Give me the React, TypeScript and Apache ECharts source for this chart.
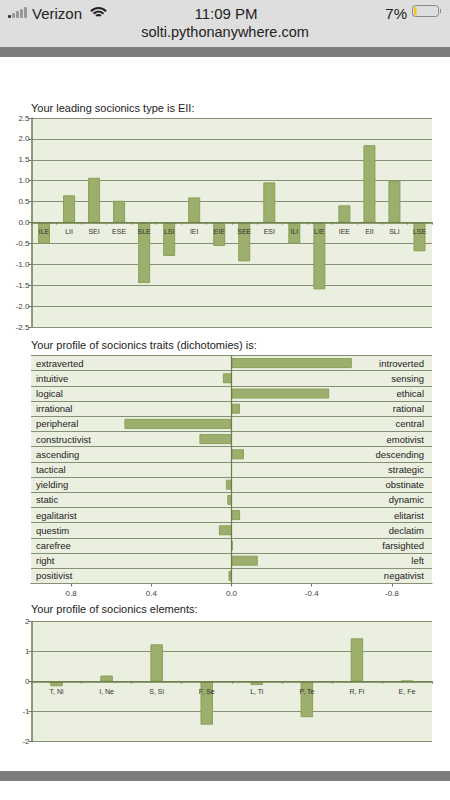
import React, { useEffect, useRef } from "react";
import * as echarts from "echarts";

const typeNames = ["ILE","LII","SEI","ESE","SLE","LSI","IEI","EIE","SEE","ESI","ILI","LIE","IEE","EII","SLI","LSE"];
const typeValues = [-0.5,0.65,1.07,0.52,-1.45,-0.8,0.6,-0.56,-0.93,0.96,-0.5,-1.6,0.41,1.85,1.0,-0.69];
const traitLeft = ["extraverted","intuitive","logical","irrational","peripheral","constructivist","ascending","tactical","yielding","static","egalitarist","questim","carefree","right","positivist"];
const traitRight = ["introverted","sensing","ethical","rational","central","emotivist","descending","strategic","obstinate","dynamic","elitarist","declatim","farsighted","left","negativist"];
const traitValues = [-0.6,0.043,-0.487,-0.042,0.534,0.16,-0.062,0,0.028,0.021,-0.043,0.063,-0.006,-0.131,0.015];
const traitTicks = [0.8,0.4,0,-0.4,-0.8];
const elementNames = ["T, Ni","I, Ne","S, Si","F, Se","L, Ti","P, Te","R, Fi","E, Fe"];
const elementValues = [-0.16,0.2,1.24,-1.44,-0.12,-1.19,1.44,0.03];

const FONT = "Liberation Sans";
const PLOT = "#ebefdf";
const GRID = "#858f74";
const AXIS = "#6c7f4a";
const BAR = { color: "#9caf6c", borderColor: "#8aa05a", borderWidth: 1 };

const chromeText = (text: string, x: number, y: number, align: string, size = 15, weight: any = "normal") => ({
  type: "text", x, y,
  style: { text, fill: "#222", font: `${weight} ${size}px '${FONT}'`, textAlign: align, textVerticalAlign: "middle" },
  z: 10,
});
const band = (y: number, height: number, fill: string) => ({ type: "rect", shape: { x: 0, y, width: 450, height }, style: { fill }, z: 1 });
const signal = [0, 1, 2, 3, 4].map((i) => ({
  type: "rect",
  shape: { x: 8 + i * 4, y: 15 - i * 2, width: 3, height: 3 + i * 2, r: 1 },
  style: { fill: i < 1 ? "#333" : "#999" }, z: 10,
}));
const wifi = [3, 6.5, 10].map((r) => ({
  type: "arc",
  shape: { cx: 98.5, cy: 18, r, startAngle: -Math.PI * 0.77, endAngle: -Math.PI * 0.23 },
  style: { stroke: "#222", lineWidth: 2.2, fill: "none" }, z: 10,
}));

function valueAxisY(gridIndex: number, min: number, max: number, interval: number, digits: number) {
  return {
    type: "value", gridIndex, min, max, interval,
    axisLine: { show: true, onZero: false, lineStyle: { color: AXIS, width: 1.5 } },
    axisTick: { show: true, length: 3, lineStyle: { color: AXIS } },
    axisLabel: { fontFamily: FONT, fontSize: 8, color: "#444", margin: 2, formatter: (v: number) => v.toFixed(digits) },
    splitLine: { show: true, lineStyle: { color: GRID, width: 1 } },
  };
}
function catAxisX(gridIndex: number, data: string[], margin: number, offset: number) {
  return {
    type: "category", gridIndex, data, offset,
    axisLine: { show: true, onZero: false, lineStyle: { color: AXIS, width: 1.5 } },
    axisTick: { show: true, length: 2, lineStyle: { color: AXIS } },
    axisLabel: { interval: 0, fontFamily: FONT, fontSize: 7, color: "#333", margin, hideOverlap: false },
    z: 5,
  };
}
const titleOf = (text: string, top: number) => ({
  text, left: 31, top,
  textStyle: { fontFamily: FONT, fontSize: 11, fontWeight: "normal", color: "#222" }, padding: 0,
});

export default function App() {
  const ref = useRef<HTMLDivElement>(null);
  useEffect(() => {
    document.body.style.margin = "0";
    const chart = echarts.init(ref.current!, null, { renderer: "svg" });
    chart.setOption({
      animation: false,
      backgroundColor: "#fff",
      title: [
        titleOf("Your leading socionics type is EII:", 102),
        titleOf("Your profile of socionics traits (dichotomies) is:", 339),
        titleOf("Your profile of socionics elements:", 603),
      ],
      grid: [
        { left: 31.5, width: 400.5, top: 118, height: 209, show: true, backgroundColor: PLOT, borderWidth: 0 },
        { left: 31, width: 401, top: 355.5, height: 228, show: true, backgroundColor: PLOT, borderWidth: 0 },
        { left: 31.5, width: 400.5, top: 621.5, height: 120, show: true, backgroundColor: PLOT, borderWidth: 0 },
      ],
      xAxis: [
        catAxisX(0, typeNames, 5, -104.5),
        {
          type: "value", gridIndex: 1, min: -1, max: 1, inverse: true,
          axisLine: { show: true, onZero: false, lineStyle: { color: AXIS, width: 1 } },
          axisTick: { show: true, length: 3, customValues: traitTicks, lineStyle: { color: AXIS } },
          axisLabel: { fontFamily: FONT, fontSize: 8, color: "#444", margin: 6, customValues: traitTicks, formatter: (v: number) => v.toFixed(1) },
          splitLine: { show: false },
        },
        catAxisX(2, elementNames, 6, -60),
      ],
      yAxis: [
        valueAxisY(0, -2.5, 2.5, 0.5, 1),
        {
          type: "category", gridIndex: 1, data: traitLeft, inverse: true, position: "left",
          axisLine: { show: false, onZero: false }, axisTick: { show: false },
          axisLabel: { inside: true, interval: 0, fontFamily: FONT, fontSize: 9.5, color: "#222", margin: 5 },
          splitLine: { show: true, interval: 0, lineStyle: { color: GRID, width: 1 } },
          z: 5,
        },
        {
          type: "category", gridIndex: 1, data: traitRight, inverse: true, position: "right",
          axisLine: { show: false, onZero: false }, axisTick: { show: false },
          axisLabel: { inside: true, interval: 0, fontFamily: FONT, fontSize: 9.5, color: "#222", margin: 8 },
          splitLine: { show: false },
          z: 5,
        },
        valueAxisY(2, -2, 2, 1, 0),
      ],
      series: [
        { type: "bar", xAxisIndex: 0, yAxisIndex: 0, data: typeValues, barWidth: 12, itemStyle: BAR },
        {
          type: "bar", xAxisIndex: 1, yAxisIndex: 1, data: traitValues, barWidth: 10, itemStyle: BAR,
          markLine: {
            silent: true, symbol: "none", label: { show: false }, animation: false,
            lineStyle: { color: AXIS, width: 1.2, type: "solid" },
            data: [{ xAxis: 0 }],
          },
        },
        { type: "bar", xAxisIndex: 2, yAxisIndex: 3, data: elementValues, barWidth: 12.5, itemStyle: BAR },
      ],
      graphic: [
        band(0, 47, "#dedede"),
        band(47, 10, "#7c7c7c"),
        band(771, 10, "#7c7c7c"),
        ...signal,
        ...wifi,
        chromeText("Verizon", 32, 13, "left"),
        chromeText("11:09 PM", 226, 13, "center", 15, 500),
        chromeText("7%", 407, 13, "right"),
        chromeText("solti.pythonanywhere.com", 225, 32, "center", 14.5),
        { type: "rect", shape: { x: 412.5, y: 5.5, width: 26, height: 11, r: 3 }, style: { fill: "none", stroke: "#888", lineWidth: 1 }, z: 10 },
        { type: "rect", shape: { x: 414, y: 7, width: 2.5, height: 8 }, style: { fill: "#f5c518" }, z: 10 },
        { type: "rect", shape: { x: 440, y: 9, width: 1, height: 4 }, style: { fill: "#888" }, z: 10 },
      ],
    });
    return () => chart.dispose();
  }, []);
  return <div ref={ref} style={{ width: 450, height: 800 }} />;
}
